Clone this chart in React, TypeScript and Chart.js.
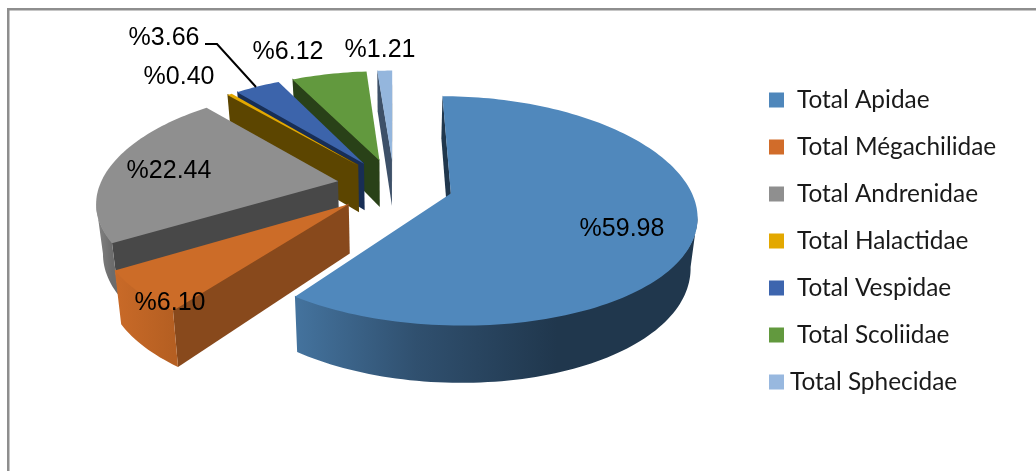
import { useEffect, useRef } from "react";
import { Chart, registerables } from "chart.js";

Chart.register(...registerables);

const WIDTH = 1036;
const HEIGHT = 471;

// Share of each bee and wasp family, in percent.
const families = [
  "Total Apidae",
  "Total Mégachilidae",
  "Total Andrenidae",
  "Total Halactidae",
  "Total Vespidae",
  "Total Scoliidae",
  "Total Sphecidae",
];
const shares = [59.98, 6.1, 22.44, 0.4, 3.66, 6.12, 1.21];
const explosion = [59, 60, 57, 57, 57, 57, 57];

// Slice styling.
const topColors = ["#5088BC", "#CC6C28", "#8F8F8F", "#E3A800", "#3C64AB", "#62993E", "#94B6DD"];
const legendColors = ["#4F87BB", "#D16C2A", "#8F8F8F", "#E3A800", "#3D65AE", "#62993E", "#98B8DF"];
const cutColors = ["#20374D", "#88491C", "#484848", "#5C4500", "#182E55", "#294118", "#3D5068"];
const wallStops: [number, string][][] = [
  [[0, "#44739E"], [0.3, "#30506F"], [0.65, "#20374D"], [1, "#20374D"]],
  [[0, "#C96A28"], [1, "#B55F22"]],
  [[0, "#848484"], [1, "#6C6C6C"]],
  [[0, "#5C4500"], [1, "#5C4500"]],
  [[0, "#182E55"], [1, "#182E55"]],
  [[0, "#294118"], [1, "#294118"]],
  [[0, "#3D5068"], [1, "#3D5068"]],
];

// Centre of each value label, in canvas pixels.
const labelSpots: [number, number][] = [
  [622, 229],
  [170, 303],
  [169, 171],
  [179, 77],
  [164, 38],
  [288, 52],
  [380, 50],
];
const leaderLine: [number, number][] = [[205, 44], [217, 44], [256, 87]];

// Oblique view of the pie: tilt squashes depth, perspective enlarges the near side.
const TILT = 0.46;
const PERSPECTIVE_Y = 0.15;
const PERSPECTIVE_X = 0.17;
const THICKNESS = 48;
const FLOOR_SHRINK = 0.977;
const RADIUS = 238;

type Pt = { x: number; y: number; drop: number; bx: number };

const pie3d = {
  id: "pie3d",
  beforeDraw(chart: Chart) {
    const { ctx } = chart;
    ctx.save();
    ctx.fillStyle = "#ffffff";
    ctx.fillRect(0, 0, WIDTH, HEIGHT);
    ctx.fillStyle = "#8E8E8E";
    ctx.fillRect(7, 8, WIDTH - 7, 2.5);
    ctx.fillRect(7, 8, 2.5, HEIGHT - 8);
    ctx.restore();
  },
  beforeDatasetsDraw(chart: Chart) {
    const { ctx } = chart;
    const arcs = chart.getDatasetMeta(0).data as any[];

    const project = (cx: number, cy: number, u: number, v: number): Pt => {
      const den = 1 - (PERSPECTIVE_Y * v) / RADIUS;
      const x = cx + u / (1 - (PERSPECTIVE_X * v) / RADIUS);
      return {
        x,
        y: cy + (TILT * v) / den,
        drop: THICKNESS / den,
        bx: cx + (x - cx) * FLOOR_SHRINK,
      };
    };

    const fillWall = (pts: Pt[], fill: string | CanvasGradient) => {
      ctx.beginPath();
      pts.forEach((p, i) => (i ? ctx.lineTo(p.x, p.y - 1) : ctx.moveTo(p.x, p.y - 1)));
      [...pts].reverse().forEach((p) => ctx.lineTo(p.bx, p.y + p.drop));
      ctx.closePath();
      ctx.fillStyle = fill;
      ctx.fill();
    };

    const slices = arcs.map((arc, i) => {
      const { x, y, startAngle, endAngle, outerRadius } = arc.getProps(
        ["x", "y", "startAngle", "endAngle", "outerRadius"],
        true
      );
      const mid = (startAngle + endAngle) / 2;
      const du = Math.cos(mid) * arc.options.offset;
      const dv = Math.sin(mid) * arc.options.offset;
      const steps = Math.max(6, Math.ceil((endAngle - startAngle) * 40));
      const rim: Pt[] = [];
      for (let s = 0; s <= steps; s++) {
        const a = startAngle + ((endAngle - startAngle) * s) / steps;
        rim.push(project(x, y, du + Math.cos(a) * outerRadius, dv + Math.sin(a) * outerRadius));
      }
      return { i, dv, rim, apex: project(x, y, du, dv) };
    });

    // Painter's order: the slices lying furthest back go first.
    [...slices]
      .sort((a, b) => a.dv - b.dv)
      .forEach(({ i, rim, apex }) => {
        const last = rim[rim.length - 1];
        if (last.x > apex.x) fillWall([last, apex], cutColors[i]);
        if (rim[0].x < apex.x) fillWall([apex, rim[0]], cutColors[i]);

        // Only the run of the rim that turns towards the viewer shows a wall.
        const run: Pt[] = [];
        for (let s = 0; s < rim.length - 1; s++) {
          if (rim[s + 1].x < rim[s].x) {
            if (!run.length) run.push(rim[s]);
            run.push(rim[s + 1]);
          }
        }
        if (run.length > 1) {
          const xs = run.map((p) => p.x);
          const g = ctx.createLinearGradient(Math.min(...xs), 0, Math.max(...xs), 0);
          wallStops[i].forEach(([t, c]) => g.addColorStop(t, c));
          fillWall(run, g);
        }

        ctx.beginPath();
        ctx.moveTo(apex.x, apex.y);
        rim.forEach((p) => ctx.lineTo(p.x, p.y));
        ctx.closePath();
        ctx.fillStyle = topColors[i];
        ctx.fill();
      });
    return false;
  },
  afterDraw(chart: Chart) {
    const { ctx } = chart;
    const values = chart.data.datasets[0].data as number[];
    const names = chart.data.labels as string[];
    ctx.save();

    // Leader for the label that sits away from its slice.
    ctx.strokeStyle = "#000000";
    ctx.lineWidth = 2;
    ctx.beginPath();
    leaderLine.forEach(([x, y], i) => (i ? ctx.lineTo(x, y) : ctx.moveTo(x, y)));
    ctx.stroke();

    // Value labels.
    ctx.fillStyle = "#000000";
    ctx.font = '25px "Liberation Sans"';
    ctx.textAlign = "center";
    ctx.textBaseline = "middle";
    values.forEach((v, i) => {
      ctx.fillText(`%${v.toFixed(2)}`, labelSpots[i][0], labelSpots[i][1]);
    });

    // Legend column; the last entry's text starts slightly further left.
    ctx.font = "24.4px Lato";
    ctx.textAlign = "left";
    names.forEach((name, i) => {
      const rowY = 100 + i * 47;
      ctx.fillStyle = legendColors[i];
      ctx.fillRect(769, rowY - 7.5, 15, 15);
      ctx.fillStyle = "#1A1A1A";
      ctx.fillText(name, i === families.length - 1 ? 790 : 797, rowY);
    });
    ctx.restore();
  },
};

export default function App() {
  const ref = useRef<HTMLCanvasElement>(null);

  useEffect(() => {
    if (!ref.current) return;
    const chart = new Chart(ref.current, {
      type: "pie",
      data: {
        labels: families,
        datasets: [
          {
            data: shares,
            backgroundColor: topColors,
            borderWidth: 0,
            offset: explosion,
          },
        ],
      },
      options: {
        animation: false,
        responsive: false,
        rotation: 0,
        radius: RADIUS,
        layout: { padding: { left: 0, right: 248, top: 0, bottom: 101 } },
        plugins: { legend: { display: false }, tooltip: { enabled: false } },
      },
      plugins: [pie3d],
    } as any);
    return () => chart.destroy();
  }, []);

  return (
    <canvas
      ref={ref}
      width={WIDTH}
      height={HEIGHT}
      style={{ position: "fixed", left: 0, top: 0, width: WIDTH, height: HEIGHT }}
    />
  );
}
